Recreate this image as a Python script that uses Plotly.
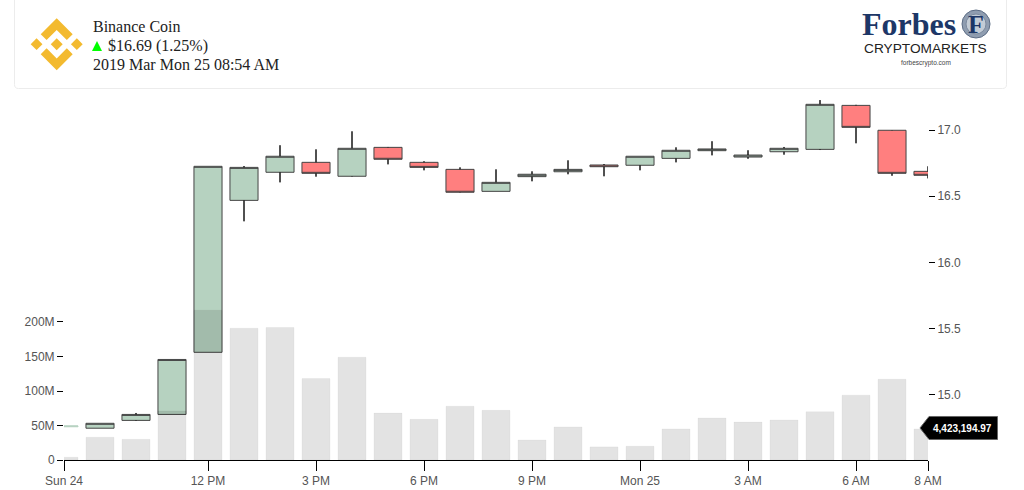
import plotly.graph_objects as go

# heures (une bougie par heure)
hours = ["2019-03-24 08:00", "2019-03-24 09:00", "2019-03-24 10:00", "2019-03-24 11:00", "2019-03-24 12:00",
         "2019-03-24 13:00", "2019-03-24 14:00", "2019-03-24 15:00", "2019-03-24 16:00", "2019-03-24 17:00",
         "2019-03-24 18:00", "2019-03-24 19:00", "2019-03-24 20:00", "2019-03-24 21:00", "2019-03-24 22:00",
         "2019-03-24 23:00", "2019-03-25 00:00", "2019-03-25 01:00", "2019-03-25 02:00", "2019-03-25 03:00",
         "2019-03-25 04:00", "2019-03-25 05:00", "2019-03-25 06:00", "2019-03-25 07:00", "2019-03-25 08:00"]

open_prices = [14.760, 14.749, 14.808, 14.853, 15.322, 16.469, 16.681, 16.756, 16.651, 16.869, 16.756, 16.703, 16.537,
               16.648, 16.685, 16.736, 16.734, 16.786, 16.844, 16.796, 16.836, 16.854, 17.186, 16.998, 16.688]
high_prices = [14.766, 14.786, 14.864, 15.268, 16.726, 16.728, 16.885, 16.854, 16.990, 16.872, 16.764, 16.718, 16.703,
               16.688, 16.771, 16.743, 16.802, 16.869, 16.915, 16.847, 16.872, 17.226, 17.190, 17.000, 16.726]
low_prices = [14.760, 14.749, 14.804, 14.853, 15.322, 16.311, 16.605, 16.648, 16.648, 16.741, 16.696, 16.528, 16.537,
              16.613, 16.666, 16.651, 16.696, 16.756, 16.809, 16.783, 16.814, 16.849, 16.900, 16.655, 16.635]
close_prices = [14.766, 14.786, 14.853, 15.268, 16.726, 16.718, 16.802, 16.673, 16.862, 16.779, 16.718, 16.530, 16.605,
                16.666, 16.703, 16.723, 16.802, 16.847, 16.857, 16.811, 16.862, 17.194, 17.020, 16.673, 16.658]
volumes = [4e6, 33e6, 30e6, 71e6, 217e6, 191e6, 192e6, 118e6, 149e6, 68e6, 59e6, 78e6, 72e6,
           29e6, 48e6, 19e6, 20e6, 45e6, 61e6, 55e6, 58e6, 70e6, 94e6, 117e6, 45e6]

x_tick_vals = ["2019-03-24 08:00", "2019-03-24 12:00", "2019-03-24 15:00", "2019-03-24 18:00", "2019-03-24 21:00",
               "2019-03-25 00:00", "2019-03-25 03:00", "2019-03-25 06:00", "2019-03-25 08:00"]
x_tick_text = ["Sun 24", "12 PM", "3 PM", "6 PM", "9 PM", "Mon 25", "3 AM", "6 AM", "8 AM"]
price_ticks = [15.0, 15.5, 16.0, 16.5, 17.0]
volume_ticks = [0, 50e6, 100e6, 150e6, 200e6]
volume_text = ["0", "50M", "100M", "150M", "200M"]

GREEN = "#b6d2c0"
RED = "#ff7f7f"
EDGE = "#444444"
GOLD = "#f3ba2f"
NAVY = "#1d3767"
AXIS_TEXT = "#555555"

# zone de tracé en pixels
LEFT, RIGHT, TOP, BOTTOM = 64, 928, 92, 460


def px(x):
    return (x - LEFT) / (RIGHT - LEFT)


def py(y):
    return (BOTTOM - y) / (BOTTOM - TOP)


def path(points, close=True):
    s = "M" + " L".join(f"{px(a):.5f},{py(b):.5f}" for a, b in points)
    return s + (" Z" if close else "")


def deco(points, fill, line=None, close=True, width=1):
    return dict(type="path", xref="paper", yref="paper", path=path(points, close), fillcolor=fill,
                line=dict(color=line or "rgba(0,0,0,0)", width=width), layer="above")


def label(x, y, text, size, color="#222222", family="Liberation Serif", anchor="left"):
    return dict(xref="paper", yref="paper", x=px(x), y=py(y), text=text, showarrow=False, xanchor=anchor,
                yanchor="middle", font=dict(size=size, color=color, family=family), borderpad=0)


fig = go.Figure()

# première bougie quasi plate, trait clair
fig.add_trace(go.Candlestick(
    x=hours[:1], open=open_prices[:1], high=high_prices[:1], low=low_prices[:1], close=close_prices[:1],
    increasing=dict(line=dict(color=GREEN, width=1), fillcolor=GREEN),
    decreasing=dict(line=dict(color=EDGE, width=1), fillcolor=RED),
    whiskerwidth=0, yaxis="y", showlegend=False, hoverinfo="skip"))
fig.add_trace(go.Candlestick(
    x=hours[1:], open=open_prices[1:], high=high_prices[1:], low=low_prices[1:], close=close_prices[1:],
    increasing=dict(line=dict(color=EDGE, width=1), fillcolor=GREEN),
    decreasing=dict(line=dict(color=EDGE, width=1), fillcolor=RED),
    whiskerwidth=0, yaxis="y", showlegend=False, hoverinfo="skip"))

# mèches noires par-dessus, le corps garde son contour gris
wick_x, wick_y = [], []
for t, o, h, l, c in list(zip(hours, open_prices, high_prices, low_prices, close_prices))[1:]:
    wick_x += [t, t, None, t, t, None]
    wick_y += [max(o, c), h, None, min(o, c), l, None]
fig.add_trace(go.Scatter(x=wick_x, y=wick_y, mode="lines", yaxis="y", showlegend=False, hoverinfo="skip",
                         line=dict(color="#000000", width=1)))

fig.add_trace(go.Bar(
    x=hours, y=volumes, yaxis="y2", showlegend=False, hoverinfo="skip",
    marker=dict(color="rgba(0,0,0,0.11)", line=dict(color="rgba(0,0,0,0.03)", width=1))))

# carte d'en-tête
shapes = [dict(type="path", xref="paper", yref="paper", fillcolor="rgba(0,0,0,0)", layer="below",
               line=dict(color="#ececec", width=1),
               path=f"M{px(14.5):.5f},{py(-2):.5f} L{px(14.5):.5f},{py(84.5):.5f} "
                    f"Q{px(14.5):.5f},{py(88.5):.5f} {px(18.5):.5f},{py(88.5):.5f} "
                    f"L{px(1002.5):.5f},{py(88.5):.5f} Q{px(1006.5):.5f},{py(88.5):.5f} {px(1006.5):.5f},{py(84.5):.5f} "
                    f"L{px(1006.5):.5f},{py(-2):.5f}")]

# logo Binance (coordonnées du dessin, 126.61 de côté)
LOGO_SCALE = 52 / 126.61


def logo(points):
    return [(30.7 + a * LOGO_SCALE, 18.2 + b * LOGO_SCALE) for a, b in points]


chevron = [(38.73, 53.2), (63.32, 28.62), (87.92, 53.22), (102.22, 38.91), (63.32, 0), (24.42, 38.9)]
shapes.append(deco(logo(chevron), GOLD))
shapes.append(deco(logo([(a, 126.61 - b) for a, b in chevron]), GOLD))
shapes.append(deco(logo([(0, 63.31), (14.3, 49), (28.61, 63.31), (14.3, 77.61)]), GOLD))
shapes.append(deco(logo([(98, 63.31), (112.31, 49), (126.61, 63.31), (112.31, 77.61)]), GOLD))
shapes.append(deco(logo([(48.82, 63.3), (63.32, 48.78), (77.83, 63.3), (63.32, 77.78)]), GOLD))

# triangle vert du prix
shapes.append(deco([(92, 51), (102, 51), (97, 41)], "#00ff00"))

# sceau Forbes
shapes.append(dict(type="circle", xref="paper", yref="paper", x0=px(962), x1=px(990), y0=py(10), y1=py(38),
                   fillcolor="#8f9db0", line=dict(color="#5d6d85", width=1), layer="above"))
shapes.append(dict(type="circle", xref="paper", yref="paper", x0=px(966), x1=px(986), y0=py(14), y1=py(34),
                   fillcolor="#c3ccd6", line=dict(color="#7c8a9e", width=1), layer="above"))

# étiquette noire du dernier volume
shapes.append(deco([(920, 428), (929, 416.5), (997.5, 416.5), (997.5, 439.5), (929, 439.5)], "#000000", "#666666"))

annotations = [
    label(92, 26, "Binance Coin", 16),
    label(107, 46, "$16.69 (1.25%)", 16),
    label(92, 65, "2019 Mar Mon 25 08:54 AM", 16),
    label(861, 24, "<b>Forbes</b>", 32, NAVY),
    label(976, 24, "<b>F</b>", 26, NAVY, anchor="center"),
    label(925, 49, "CRYPTOMARKETS", 13.7, "#222222", "Liberation Sans", "center"),
    label(925.5, 63, "forbescrypto.com", 6.5, "#444444", "Liberation Sans", "center"),
    label(962, 428, "<b>4,423,194.97</b>", 10, "#ffffff", "Liberation Sans", "center"),
]

fig.update_layout(
    width=1024, height=490, autosize=False,
    margin=dict(l=LEFT, r=1024 - RIGHT, t=TOP, b=490 - BOTTOM, pad=0),
    paper_bgcolor="white", plot_bgcolor="white",
    boxgap=0.22, boxgroupgap=0, bargap=0.22, boxmode="overlay",
    font=dict(family="Liberation Sans", size=12, color=AXIS_TEXT),
    xaxis=dict(type="date", range=[hours[0], hours[-1]], rangeslider=dict(visible=False), automargin=False,
               tickmode="array", tickvals=x_tick_vals, ticktext=x_tick_text, tickangle=0,
               ticks="outside", ticklen=10, tickcolor="#000000", tickwidth=1,
               showline=True, linecolor="#000000", linewidth=1, showgrid=False, zeroline=False,
               tickfont=dict(size=12, color=AXIS_TEXT)),
    yaxis=dict(side="right", range=[14.509, 17.287], tickmode="array", tickvals=price_ticks, automargin=False,
               tickformat=".1f", tickprefix="\u00a0", ticks="outside", ticklen=6, tickcolor="#000000", showgrid=False,
               zeroline=False, showline=False, tickfont=dict(size=12, color=AXIS_TEXT)),
    yaxis2=dict(side="left", overlaying="y", anchor="x", range=[0, 533.3e6], tickmode="array", automargin=False,
                tickvals=volume_ticks, ticktext=volume_text, ticks="outside", ticklen=6,
                tickcolor="#000000", showgrid=False, zeroline=False, showline=False,
                tickfont=dict(size=12, color=AXIS_TEXT)),
    shapes=shapes, annotations=annotations,
)

fig.write_html("out.html", config={"displayModeBar": False}, post_script="document.body.style.margin='0';")
